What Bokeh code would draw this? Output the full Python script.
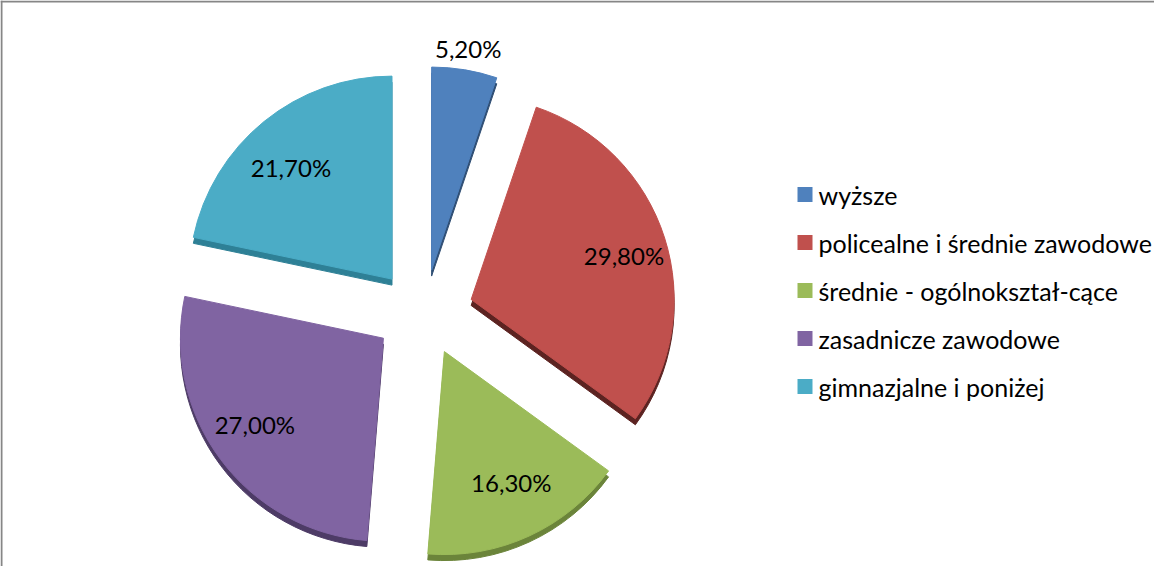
import numpy as np
from bokeh.plotting import figure
from bokeh.models import Range1d, Span, ColumnDataSource
from bokeh.core.properties import value
from bokeh.embed import file_html
from bokeh.resources import INLINE

# ---- data ----
categories = ["wyższe", "policealne i średnie zawodowe", "średnie - ogólnokształ-cące",
              "zasadnicze zawodowe", "gimnazjalne i poniżej"]
values = [5.2, 29.8, 16.3, 27.0, 21.7]
colors = ["#4F81BD", "#C0504D", "#9BBB59", "#8064A2", "#4BACC6"]
depth_colors = ["#2F4E74", "#5C2321", "#6B843A", "#4D3B66", "#2E8096"]

# ---- layout (pixels) ----
W, H = 1154, 566
CX, CY = 431, -320          # pie centre (screen y negated)
R = 203                     # radius
EXX, EXY = 50, 43           # explosion offsets
DEPTH = 6
FONT = "Lato"

vals = np.array(values, dtype=float)
frac = vals / vals.sum()
cum_after = np.cumsum(frac)
cum_before = cum_after - frac
start = np.pi / 2 - 2 * np.pi * cum_before
end = np.pi / 2 - 2 * np.pi * cum_after
mid = (start + end) / 2
xs = CX + EXX * np.cos(mid)
ys = CY + EXY * np.sin(mid)
inside = frac >= 0.1
lab_rx = np.where(inside, 0.79 * R, R + 22)
lab_ry = np.where(inside, 0.71 * R, R + 22)
lx = xs + lab_rx * np.cos(mid)
ly = ys + lab_ry * np.sin(mid)
labels = [f"{v:.2f}".replace(".", ",") + "%" for v in values]

src = ColumnDataSource(dict(x=xs, y=ys, yd=ys - DEPTH, start=start, end=end,
                            color=colors, dcolor=depth_colors,
                            lx=lx, ly=ly, label=labels))

p = figure(width=W, height=H, output_backend="svg", toolbar_location=None,
           x_range=Range1d(8, 8 + W), y_range=Range1d(-8 - H, -8),
           x_axis_location=None, y_axis_location=None, min_border=0,
           outline_line_color=None, background_fill_color="white",
           border_fill_color="white")
p.grid.visible = False

p.wedge(x="x", y="yd", radius=R, radius_units="screen", start_angle="start",
        end_angle="end", direction="clock", fill_color="dcolor",
        line_color="dcolor", line_width=1, source=src)
p.wedge(x="x", y="y", radius=R, radius_units="screen", start_angle="start",
        end_angle="end", direction="clock", fill_color="color",
        line_color="color", line_width=1, source=src)

p.text(x="lx", y="ly", text="label", text_align="center", text_baseline="middle",
       text_font=value(FONT), text_font_size="24px", text_color="black", source=src)

# legend
n = len(categories)
leg_y = [-(202 + 48 * i) for i in range(n)]
leg = ColumnDataSource(dict(x=[812.5] * n, tx=[826] * n, y=leg_y, color=colors,
                            cat=categories))
p.scatter(x="x", y="y", marker="square", size=15, fill_color="color",
          line_color=None, source=leg)
p.text(x="tx", y="y", text="cat", text_align="left", text_baseline="middle",
       text_font=value(FONT), text_font_size="25px", text_color="black", source=leg)

# chart border (left/top visible)
p.add_layout(Span(location=9, dimension="height", line_color="#868686", line_width=2))
p.add_layout(Span(location=-9, dimension="width", line_color="#868686", line_width=2))

open("out.html", "w").write(file_html(p, INLINE))
